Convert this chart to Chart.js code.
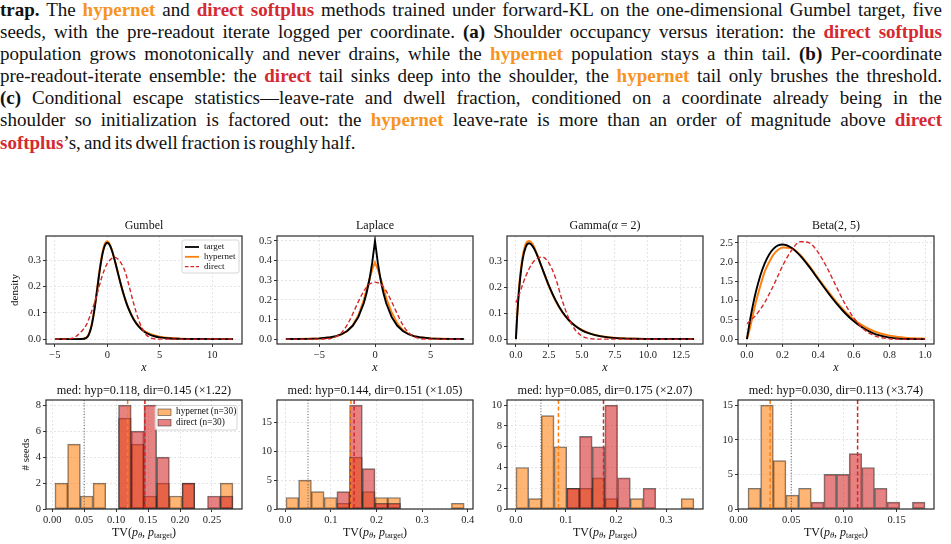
<!DOCTYPE html>
<html><head><meta charset="utf-8">
<script src="https://cdn.jsdelivr.net/npm/chart.js@4.4.0/dist/chart.umd.min.js"></script>
<style>
html,body{margin:0;padding:0;background:#fff;width:951px;height:544px;overflow:hidden;position:relative}
#cap{position:absolute;left:0;top:-1px;width:942px;font-family:"Liberation Serif","Times New Roman",serif;font-size:19px;word-spacing:-1.6px;line-height:22.1px;color:#111}
#cap div{text-align:justify;text-align-last:justify;white-space:nowrap}
#cap div.last{text-align-last:left}
.o{color:#f7931e;font-weight:bold}
.r{color:#d42a31;font-weight:bold}
canvas{position:absolute}
</style></head><body>
<div id="cap">
<div><b>trap.</b> The <span class="o">hypernet</span> and <span class="r">direct softplus</span> methods trained under forward-KL on the one-dimensional Gumbel target, five</div>
<div>seeds, with the pre-readout iterate logged per coordinate. <b>(a)</b> Shoulder occupancy versus iteration: the <span class="r">direct softplus</span></div>
<div>population grows monotonically and never drains, while the <span class="o">hypernet</span> population stays a thin tail. <b>(b)</b> Per-coordinate</div>
<div>pre-readout-iterate ensemble: the <span class="r">direct</span> tail sinks deep into the shoulder, the <span class="o">hypernet</span> tail only brushes the threshold.</div>
<div><b>(c)</b> Conditional escape statistics—leave-rate and dwell fraction, conditioned on a coordinate already being in the</div>
<div>shoulder so initialization is factored out: the <span class="o">hypernet</span> leave-rate is more than an order of magnitude above <span class="r">direct</span></div>
<div class="last"><span class="r">softplus</span>’s, and its dwell fraction is roughly half.</div>
</div>
<script>
// ================= DATA =================
// (a) densities — Gumbel
const gumbelX      = [-5,-4,-3.5,-3,-2.5,-2,-1.75,-1.5,-1.25,-1,-0.75,-0.5,-0.25,0,0.25,0.5,0.75,1,1.25,1.5,1.75,2,2.5,3,3.5,4,4.5,5,6,7,8,9,10,11,12];
const gumbelTarget = [0,0,0,0,0.0001,0.0046,0.0182,0.0507,0.1065,0.1794,0.2549,0.3170,0.3556,0.3679,0.3574,0.3307,0.2945,0.2546,0.2151,0.1785,0.1460,0.1182,0.0756,0.0474,0.0293,0.0180,0.0110,0.0067,0.0025,0.0009,0.0003,0.0001,0,0,0];
const gumbelHyper  = [0,0,0,0,0.0005,0.006,0.021,0.054,0.110,0.184,0.260,0.323,0.363,0.374,0.361,0.332,0.294,0.254,0.214,0.178,0.147,0.120,0.078,0.050,0.032,0.021,0.014,0.009,0.004,0.0015,0.0006,0.0002,0.0001,0,0];
const gumbelDirect = [0,0,0.002,0.010,0.028,0.054,0.078,0.105,0.135,0.168,0.205,0.240,0.268,0.289,0.302,0.310,0.312,0.306,0.294,0.277,0.252,0.215,0.138,0.072,0.028,0.007,0.001,0,0,0,0,0,0,0,0];
// Laplace
const laplaceX      = [-8,-7,-6,-5,-4,-3.5,-3,-2.5,-2,-1.5,-1,-0.75,-0.5,-0.25,0,0.25,0.5,0.75,1,1.5,2,2.5,3,3.5,4,5,6,7,8];
const laplaceTarget = [0.0002,0.0005,0.0012,0.0034,0.0092,0.0151,0.0249,0.0410,0.0677,0.1116,0.1839,0.2362,0.3033,0.3894,0.5,0.3894,0.3033,0.2362,0.1839,0.1116,0.0677,0.0410,0.0249,0.0151,0.0092,0.0034,0.0012,0.0005,0.0002];
const laplaceHyper  = [0.0002,0.0005,0.0012,0.003,0.008,0.014,0.024,0.041,0.070,0.120,0.200,0.252,0.305,0.355,0.390,0.357,0.310,0.260,0.210,0.135,0.080,0.046,0.026,0.015,0.009,0.003,0.0012,0.0005,0.0002];
const laplaceDirect = [0,0,0,0,0.003,0.012,0.033,0.072,0.128,0.190,0.245,0.265,0.280,0.287,0.290,0.287,0.280,0.265,0.245,0.190,0.128,0.072,0.033,0.012,0.003,0,0,0,0];
// Gamma(2)
const gammaX      = [0,0.1,0.25,0.5,0.75,1,1.25,1.5,2,2.5,3,3.5,4,4.5,5,5.5,6,7,8,9,10,11,12,13.5];
const gammaTarget = [0,0.0905,0.1947,0.3033,0.3543,0.3679,0.3581,0.3347,0.2707,0.2052,0.1494,0.1057,0.0733,0.0500,0.0337,0.0225,0.0149,0.0064,0.0027,0.0011,0.0005,0.0002,0.0001,0];
const gammaHyper  = [0,0.100,0.205,0.315,0.366,0.377,0.366,0.339,0.271,0.203,0.147,0.104,0.073,0.051,0.035,0.024,0.016,0.007,0.003,0.0013,0.0006,0.0003,0.0001,0];
const gammaDirect = [0.140,0.152,0.172,0.208,0.242,0.270,0.292,0.306,0.315,0.292,0.235,0.150,0.080,0.035,0.012,0.003,0,0,0,0,0,0,0,0];
// Beta(2,5)
const betaX      = [0,0.0125,0.025,0.05,0.075,0.1,0.125,0.15,0.175,0.2,0.25,0.3,0.35,0.4,0.45,0.5,0.55,0.6,0.65,0.7,0.75,0.8,0.85,0.9,0.95,1];
const betaTarget = [0,0.357,0.678,1.222,1.647,1.968,2.198,2.349,2.432,2.458,2.373,2.161,1.874,1.555,1.235,0.938,0.677,0.461,0.293,0.170,0.088,0.038,0.013,0.003,0.0002,0];
const betaHyper  = [0,0.2,0.45,0.95,1.38,1.75,2.00,2.20,2.32,2.38,2.36,2.18,1.90,1.58,1.27,0.98,0.72,0.51,0.35,0.23,0.145,0.09,0.055,0.03,0.018,0.01];
const betaDirect = [0.40,0.45,0.50,0.62,0.77,0.95,1.17,1.40,1.65,1.90,2.30,2.53,2.50,2.25,1.85,1.38,0.92,0.55,0.28,0.12,0.04,0.01,0,0,0,0];

// histograms of TV distance per seed (bin centres and counts)
const gumbelBins   = [0.0142,0.0341,0.0540,0.0739,0.0938,0.1137,0.1336,0.1535,0.1734,0.1933,0.2132,0.2331,0.2530,0.2729];
const gumbelHypCnt = [2,5,1,2,0,7,5,1,2,1,2,0,0,2];
const gumbelDirCnt = [0,0,0,0,0,8,6,8,4,0,2,0,1,1];
const laplaceBins   = [0.0155,0.0434,0.0713,0.0992,0.1271,0.1550,0.1829,0.2108,0.2387,0.2666,0.2945,0.3224,0.3503,0.3782];
const laplaceHypCnt = [2,5,3,2,1,9,3,2,2,0,0,0,0,1];
const laplaceDirCnt = [0,0,0,0,3,18,7,1,1,0,0,0,0,0];
const gammaBins   = [0.0127,0.0381,0.0635,0.0889,0.1143,0.1397,0.1651,0.1905,0.2159,0.2413,0.2667,0.2921,0.3175,0.3429];
const gammaHypCnt = [4,1,9,6,2,2,3,1,0,1,0,0,0,1];
const gammaDirCnt = [0,0,0,0,2,7,6,10,3,0,2,0,0,0];
const betaBins   = [0.015,0.027,0.039,0.051,0.063,0.075,0.087,0.099,0.111,0.123,0.135,0.147,0.159,0.171];
const betaHypCnt = [3,15,7,2,3,0,0,0,0,0,0,0,0,0];
const betaDirCnt = [0,0,0,0,0,1,5,5,8,6,3,1,0,1];

const gumbelMedians  = [0.118, 0.145];
const laplaceMedians = [0.144, 0.151];
const gammaMedians   = [0.085, 0.175];
const betaMedians    = [0.030, 0.113];
const tvThreshold = 0.05;

const histTitles = ['med: hyp=0.118, dir=0.145 (×1.22)','med: hyp=0.144, dir=0.151 (×1.05)','med: hyp=0.085, dir=0.175 (×2.07)','med: hyp=0.030, dir=0.113 (×3.74)'];
const densTitles = ['Gumbel','Laplace','Gamma(α = 2)','Beta(2, 5)'];

// tick values / labels
const gumbelXTicks = [-5,0,5,10],            gumbelXLabels = ['−5','0','5','10'];
const gumbelYTicks = [0,0.1,0.2,0.3],        gumbelYLabels = ['0.0','0.1','0.2','0.3'];
const laplaceXTicks = [-5,0,5],              laplaceXLabels = ['−5','0','5'];
const laplaceYTicks = [0,0.1,0.2,0.3,0.4,0.5], laplaceYLabels = ['0.0','0.1','0.2','0.3','0.4','0.5'];
const gammaXTicks = [0,2.5,5,7.5,10,12.5],   gammaXLabels = ['0.0','2.5','5.0','7.5','10.0','12.5'];
const gammaYTicks = [0,0.1,0.2,0.3],         gammaYLabels = ['0.0','0.1','0.2','0.3'];
const betaXTicks = [0,0.2,0.4,0.6,0.8,1],    betaXLabels = ['0.0','0.2','0.4','0.6','0.8','1.0'];
const betaYTicks = [0,0.5,1,1.5,2,2.5],      betaYLabels = ['0.0','0.5','1.0','1.5','2.0','2.5'];
const h1XTicks = [0,0.05,0.1,0.15,0.2,0.25], h1XLabels = ['0.00','0.05','0.10','0.15','0.20','0.25'];
const h1YTicks = [0,2,4,6,8],                h1YLabels = ['0','2','4','6','8'];
const h2XTicks = [0,0.1,0.2,0.3,0.4],        h2XLabels = ['0.0','0.1','0.2','0.3','0.4'];
const h2YTicks = [0,5,10,15],                h2YLabels = ['0','5','10','15'];
const h3XTicks = [0,0.1,0.2,0.3],            h3XLabels = ['0.0','0.1','0.2','0.3'];
const h3YTicks = [0,2,4,6,8,10],             h3YLabels = ['0','2','4','6','8','10'];
const h4XTicks = [0,0.05,0.1,0.15],          h4XLabels = ['0.00','0.05','0.10','0.15'];
const h4YTicks = [0,5,10,15],                h4YLabels = ['0','5','10','15'];

// ================= STYLE / LAYOUT =================
const FAM = '"Liberation Serif","Times New Roman",serif';
const C_T = '#000000', C_H = '#ff7f0e', C_D = '#d62728';
const HYP_FILL = 'rgba(255,127,14,0.58)', DIR_FILL = 'rgba(214,39,40,0.58)', EDGE = 'rgba(30,30,30,0.6)';
const COLS = [46, 276.5, 507, 737.5], PW = 196;
const PADL = 46, PADR = 6, PADT = 22, PADB = 34;
Chart.defaults.font.family = FAM;
Chart.defaults.color = '#222';
Chart.defaults.animation = false;

function drawRuns(ctx, runs, cx, cy) {
  let total = 0;
  runs.forEach(r => { ctx.font = r.f; r.w = ctx.measureText(r.t).width; total += r.w; });
  let x = cx - total / 2;
  ctx.textAlign = 'left';
  runs.forEach(r => { ctx.font = r.f; ctx.fillText(r.t, x, cy + (r.dy || 0)); x += r.w; });
  ctx.textAlign = 'center';
}

const decor = {
  id: 'decor',
  afterDatasetsDraw(chart, args, o) {
    const {ctx, chartArea: a, scales} = chart;
    ctx.save();
    (o.vlines || []).forEach(v => {
      const x = scales.x.getPixelForValue(v.value);
      ctx.beginPath(); ctx.setLineDash(v.dash); ctx.strokeStyle = v.color; ctx.lineWidth = v.width;
      ctx.moveTo(x, a.top); ctx.lineTo(x, a.bottom); ctx.stroke();
    });
    ctx.setLineDash([]);
    ctx.strokeStyle = '#2a2a2a'; ctx.lineWidth = 1.2;
    ctx.strokeRect(a.left, a.top, a.right - a.left, a.bottom - a.top);
    ctx.restore();
  },
  afterDraw(chart, args, o) {
    const {ctx, chartArea: a} = chart;
    const cx = (a.left + a.right) / 2;
    ctx.save();
    ctx.fillStyle = '#111'; ctx.textAlign = 'center'; ctx.textBaseline = 'middle';
    if (o.titleRuns) drawRuns(ctx, o.titleRuns, cx, a.top - o.titleGap);
    if (o.xRuns) drawRuns(ctx, o.xRuns, cx, a.bottom + 24);
    if (o.ylabel) {
      ctx.save(); ctx.font = '11px ' + FAM;
      ctx.translate(o.ylabelX, (a.top + a.bottom) / 2); ctx.rotate(-Math.PI / 2);
      ctx.fillText(o.ylabel, 0, 0); ctx.restore();
    }
    if (o.legend) {
      const L = o.legend;
      const bx = a.right - L.dx - L.w, by = a.top + L.dy;
      ctx.beginPath();
      if (ctx.roundRect) ctx.roundRect(bx, by, L.w, L.h, 2); else ctx.rect(bx, by, L.w, L.h);
      ctx.fillStyle = 'rgba(255,255,255,0.85)'; ctx.fill();
      ctx.strokeStyle = '#cccccc'; ctx.lineWidth = 0.8; ctx.stroke();
      ctx.font = L.font + 'px ' + FAM; ctx.textAlign = 'left';
      L.items.forEach((it, i) => {
        const y = by + L.y0 + i * L.row;
        if (L.kind === 'line') {
          ctx.beginPath(); ctx.setLineDash(it.dash || []); ctx.strokeStyle = it.color; ctx.lineWidth = it.width;
          ctx.moveTo(bx + 3, y); ctx.lineTo(bx + 17, y); ctx.stroke(); ctx.setLineDash([]);
          ctx.fillStyle = '#111'; ctx.fillText(it.label, bx + 22, y);
        } else {
          ctx.fillStyle = it.color; ctx.fillRect(bx + 3, y - 3, 13, 6.5);
          ctx.strokeStyle = EDGE; ctx.lineWidth = 0.8; ctx.strokeRect(bx + 3, y - 3, 13, 6.5);
          ctx.fillStyle = '#111'; ctx.fillText(it.label, bx + 21, y);
        }
      });
    }
    ctx.restore();
  }
};

function axis(min, max, ticks, labels, dim) {
  return {
    type: 'linear', min, max, offset: false,
    afterBuildTicks: s => { s.ticks = ticks.map(v => ({value: v})); },
    afterFit: s => { if (dim === 'w') s.width = PADL; else s.height = PADB; },
    ticks: { autoSkip: false, maxRotation: 0, minRotation: 0, padding: 2, font: {size: 10.5}, color: '#222',
             callback: (v, i) => labels[i] },
    grid: { color: '#dadada', lineWidth: 0.7, drawTicks: true, tickLength: 3, tickColor: '#333', tickWidth: 1,
            tickBorderDash: [], offset: false },
    border: { display: false, dash: [2, 2] }
  };
}

function titleRuns(t, size) {
  if (t.indexOf('α') >= 0) {
    const p = t.split('α');
    return [{t: p[0], f: size + 'px ' + FAM}, {t: 'α', f: 'italic ' + size + 'px ' + FAM}, {t: p[1], f: size + 'px ' + FAM}];
  }
  return [{t, f: size + 'px ' + FAM}];
}
const xRunsX = [{t: 'x', f: 'italic 12px ' + FAM}];
const xRunsTV = [
  {t: 'TV(', f: '12px ' + FAM}, {t: 'p', f: 'italic 12px ' + FAM}, {t: 'θ', f: 'italic 8.5px ' + FAM, dy: 3},
  {t: ', ', f: '12px ' + FAM}, {t: 'p', f: 'italic 12px ' + FAM}, {t: 'target', f: '8px ' + FAM, dy: 3},
  {t: ')', f: '12px ' + FAM}];

function makeCanvas(left, top, ph) {
  const cv = document.createElement('canvas');
  const W = PW + PADL + PADR, H = ph + PADT + PADB;
  cv.width = W; cv.height = H;
  cv.style.left = (left - PADL) + 'px'; cv.style.top = (top - PADT) + 'px';
  cv.style.width = W + 'px'; cv.style.height = H + 'px';
  document.body.appendChild(cv);
  return cv;
}
const baseOpts = (decorOpts, xA, yA) => ({
  responsive: false, animation: false, events: [],
  layout: { padding: { left: 0, right: PADR, top: PADT, bottom: 0 } },
  plugins: { legend: { display: false }, tooltip: { enabled: false }, title: { display: false }, decor: decorOpts },
  scales: { x: xA, y: yA }
});

function densityPanel(i, xs, tgt, hyp, dir, xr, yr, xt, xl, yt, yl, smooth, extra) {
  const cv = makeCanvas(COLS[i], 236, 108);
  const pts = ys => xs.map((x, k) => ({x, y: ys[k]}));
  const mode = smooth ? 'monotone' : 'default';
  new Chart(cv, {
    type: 'line',
    data: { datasets: [
      { data: pts(dir), borderColor: C_D, borderWidth: 1.4, borderDash: [4.5, 2.5], pointRadius: 0, fill: false, order: 0, cubicInterpolationMode: 'monotone' },
      { data: pts(tgt), borderColor: C_T, borderWidth: 1.9, pointRadius: 0, fill: false, order: 1, cubicInterpolationMode: mode },
      { data: pts(hyp), borderColor: C_H, borderWidth: 2.0, pointRadius: 0, fill: false, order: 2, cubicInterpolationMode: mode }
    ]},
    options: baseOpts(Object.assign({ titleRuns: titleRuns(densTitles[i], 12), titleGap: 10, xRuns: xRunsX }, extra || {}),
      axis(xr[0], xr[1], xt, xl, 'h'), axis(yr[0], yr[1], yt, yl, 'w')),
    plugins: [decor]
  });
}

function histPanel(i, bins, hc, dc, med, xr, yr, xt, xl, yt, yl, extra) {
  const cv = makeCanvas(COLS[i], 399.5, 109);
  const pts = ys => bins.map((x, k) => ({x, y: ys[k]}));
  const common = { borderColor: EDGE, borderWidth: 1, borderSkipped: false, grouped: false, barPercentage: 1, categoryPercentage: 1 };
  new Chart(cv, {
    type: 'bar',
    data: { datasets: [
      Object.assign({ data: pts(dc), backgroundColor: DIR_FILL, order: 0 }, common),
      Object.assign({ data: pts(hc), backgroundColor: HYP_FILL, order: 1 }, common)
    ]},
    options: baseOpts(Object.assign({
        titleRuns: titleRuns(histTitles[i], 12.3), titleGap: 9.5, xRuns: xRunsTV,
        vlines: [
          { value: tvThreshold, color: '#555', width: 1, dash: [1, 1.8] },
          { value: med[0], color: C_H, width: 1.5, dash: [4, 2.5] },
          { value: med[1], color: C_D, width: 1.5, dash: [4, 2.5] }
        ] }, extra || {}),
      axis(xr[0], xr[1], xt, xl, 'h'), axis(yr[0], yr[1], yt, yl, 'w')),
    plugins: [decor]
  });
}

densityPanel(0, gumbelX, gumbelTarget, gumbelHyper, gumbelDirect, [-5.85, 12.85], [-0.01875, 0.39375],
  gumbelXTicks, gumbelXLabels, gumbelYTicks, gumbelYLabels, true,
  { ylabel: 'density', ylabelX: 15, legend: { kind: 'line', dx: 3, dy: 4, w: 57, h: 33, y0: 7, row: 9.8, font: 9,
    items: [{label: 'target', color: C_T, width: 1.8}, {label: 'hypernet', color: C_H, width: 1.8}, {label: 'direct', color: C_D, width: 1.3, dash: [3.5, 2]}] } });
densityPanel(1, laplaceX, laplaceTarget, laplaceHyper, laplaceDirect, [-8.8, 8.8], [-0.025, 0.525],
  laplaceXTicks, laplaceXLabels, laplaceYTicks, laplaceYLabels, false);
densityPanel(2, gammaX, gammaTarget, gammaHyper, gammaDirect, [-0.675, 14.175], [-0.0189, 0.3959],
  gammaXTicks, gammaXLabels, gammaYTicks, gammaYLabels, true);
densityPanel(3, betaX, betaTarget, betaHyper, betaDirect, [-0.05, 1.05], [-0.1275, 2.6775],
  betaXTicks, betaXLabels, betaYTicks, betaYLabels, true);

histPanel(0, gumbelBins, gumbelHypCnt, gumbelDirCnt, gumbelMedians, [-0.0097, 0.297], [0, 8.4],
  h1XTicks, h1XLabels, h1YTicks, h1YLabels,
  { ylabel: '# seeds', ylabelX: 26, legend: { kind: 'patch', dx: 5, dy: 5.5, w: 82, h: 24.5, y0: 6.5, row: 10.5, font: 9.3,
    items: [{label: 'hypernet (n=30)', color: HYP_FILL}, {label: 'direct (n=30)', color: DIR_FILL}] } });
histPanel(1, laplaceBins, laplaceHypCnt, laplaceDirCnt, laplaceMedians, [-0.018, 0.4115], [0, 18.9],
  h2XTicks, h2XLabels, h2YTicks, h2YLabels);
histPanel(2, gammaBins, gammaHypCnt, gammaDirCnt, gammaMedians, [-0.0178, 0.3738], [0, 10.5],
  h3XTicks, h3XLabels, h3YTicks, h3YLabels);
histPanel(3, betaBins, betaHypCnt, betaDirCnt, betaMedians, [-0.0005, 0.1855], [0, 15.75],
  h4XTicks, h4XLabels, h4YTicks, h4YLabels);
</script>
</body></html>
